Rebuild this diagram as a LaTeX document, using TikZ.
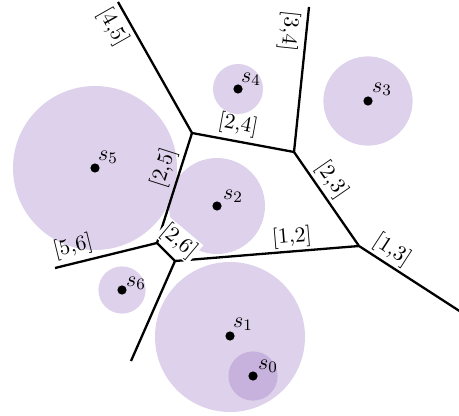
\documentclass[tikz,border=0pt]{standalone}
\definecolor{lav}{RGB}{221,209,235}
\definecolor{lavd}{RGB}{198,178,221}
\begin{document}
\begin{tikzpicture}[x=0.5pt,y=-0.5pt,
  every node/.style={font=\fontsize{10.8}{13}\selectfont},
  edge/.style={line width=1.15pt, line join=round},
  lab/.style={inner sep=1pt},
  wlab/.style={inner sep=0.8pt, fill=white},
  site/.style={circle, fill=black, inner sep=0pt, minimum size=4.6pt},
  sname/.style={inner sep=0pt}]
\useasboundingbox (0,0) rectangle (459,416);
% disks
\fill[lav] (95,168) circle[radius=41pt];
\fill[lav] (238,89) circle[radius=12.5pt];
\fill[lav] (368,101) circle[radius=22.3pt];
\fill[lav] (217,206) circle[radius=24pt];
\fill[lav] (122,290) circle[radius=11.8pt];
\fill[lav] (230,337) circle[radius=37.5pt];
\fill[lavd] (253,376) circle[radius=12.3pt];
% vertices
\coordinate (A) at (192,133);
\coordinate (B) at (294,152);
\coordinate (C) at (359,246);
\coordinate (D) at (157,243);
\coordinate (E) at (175,261);
\coordinate (T45) at (118,2);
\coordinate (T34) at (309,7);
\coordinate (R13) at (461,312);
\coordinate (L56) at (55,268);
\coordinate (B16) at (131,361);
% edges
\draw[edge] (T45) -- (A);
\draw[edge] (A) -- (B);
\draw[edge] (A) -- (D);
\draw[edge] (T34) -- (B);
\draw[edge] (B) -- (C);
\draw[edge] (C) -- (R13);
\draw[edge] (C) -- (E);
\draw[edge] (L56) -- (D);
\draw[edge] (D) -- (E);
\draw[edge] (E) -- (B16);
% edge labels
\node[lab, rotate=-60.5] (l45) at (113,27) {[4,5]};
\node[lab, rotate=-96] (l34) at (289,31) {[3,4]};
\node[lab, rotate=-10.5] (l24) at (238,125) {[2,4]};
\node[lab, rotate=-55.3] (l23) at (332,180) {[2,3]};
\node[lab, rotate=-33] (l13) at (392,250) {[1,3]};
\node[lab, rotate=4.7] (l12) at (292,237) {[1,2]};
\node[lab, rotate=72.3] (l25) at (164,168) {[2,5]};
\node[lab, rotate=13.8] (l56) at (73,247) {[5,6]};
\node[wlab, rotate=-40] (l26) at (179,241) {[2,6]};
% sites
\node[site] (s5) at (95,168) {};
\node[site] (s4) at (238,89) {};
\node[site] (s3) at (368,101) {};
\node[site] (s2) at (217,206) {};
\node[site] (s6) at (122,290) {};
\node[site] (s1) at (230,336) {};
\node[site] (s0) at (253,376) {};
\node[sname] (n5) at (108,157) {$s_5$};
\node[sname] (n4) at (251,79) {$s_4$};
\node[sname] (n3) at (382,89) {$s_3$};
\node[sname] (n2) at (233,196) {$s_2$};
\node[sname] (n6) at (136,283) {$s_6$};
\node[sname] (n1) at (243,324) {$s_1$};
\node[sname] (n0) at (268,366) {$s_0$};
\end{tikzpicture}
\end{document}
